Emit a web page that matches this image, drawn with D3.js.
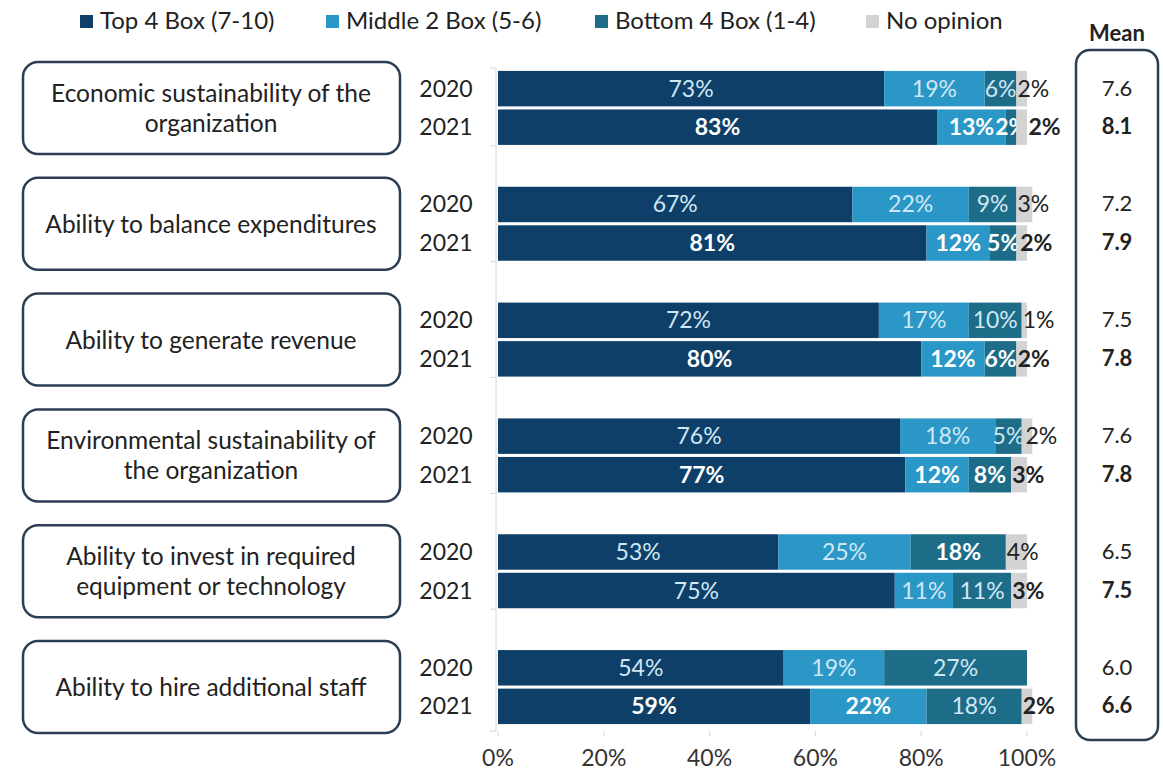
<!DOCTYPE html>
<html lang="en">
<head>
    <meta charset="UTF-8">
    <title>Sustainability ratings 2020 vs 2021</title>
    <script src="https://d3js.org/d3.v7.min.js"></script>
    <style>
        body { margin: 0; background: #fff; font-family: Lato, "Open Sans", sans-serif; }
        .cat-box { fill: #fff; stroke: #2b3e52; stroke-width: 2.5px; }
        .cat-label { font-size: 24.5px; fill: #222; }
        .year-label { font-size: 23px; fill: #222; }
        .bar-label { font-size: 23px; }
        .mean-label { font-size: 22px; fill: #222; }
        .axis-label { font-size: 23px; fill: #333; }
        .legend-label { font-size: 24px; fill: #222; }
    </style>
</head>
<body>
<div id="chart"></div>
<script>
    // 数据
    const categories = [
        ["Economic sustainability of the", "organization"],
        ["Ability to balance expenditures"],
        ["Ability to generate revenue"],
        ["Environmental sustainability of", "the organization"],
        ["Ability to invest in required", "equipment or technology"],
        ["Ability to hire additional staff"]
    ];
    const years = ["2020", "2021"];
    const seriesNames = ["Top 4 Box (7-10)", "Middle 2 Box (5-6)", "Bottom 4 Box (1-4)", "No opinion"];
    const seriesColors = ["#0e3f68", "#2a97c6", "#1e6d88", "#d3d3d3"];

    // values per category: [2020, 2021]
    const top4 = [[73, 83], [67, 81], [72, 80], [76, 77], [53, 75], [54, 59]];
    const middle2 = [[19, 13], [22, 12], [17, 12], [18, 12], [25, 11], [19, 22]];
    const bottom4 = [[6, 2], [9, 5], [10, 6], [5, 8], [18, 11], [27, 18]];
    const noOpinion = [[2, 2], [3, 2], [1, 2], [2, 3], [4, 3], [0, 2]];
    // bold labels (significant change)
    const boldTop = [[0, 1], [0, 1], [0, 1], [0, 1], [0, 0], [0, 1]];
    const boldMid = [[0, 1], [0, 1], [0, 1], [0, 1], [0, 0], [0, 1]];
    const boldBot = [[0, 1], [0, 1], [0, 1], [0, 1], [1, 0], [0, 0]];
    const boldNo = [[0, 1], [0, 1], [0, 1], [0, 1], [0, 1], [0, 1]];
    const means = [[7.6, 8.1], [7.2, 7.9], [7.5, 7.8], [7.6, 7.8], [6.5, 7.5], [6.0, 6.6]];
    const xTicks = [0, 20, 40, 60, 80, 100];

    const width = 1163, height = 772;
    const svg = d3.select("#chart").append("svg")
        .attr("width", width).attr("height", height);

    const x = d3.scaleLinear().domain([0, 100]).range([498, 1027]);
    const yGroup = d3.scaleBand().domain(d3.range(categories.length)).range([50, 745]);
    const yYear = d3.scaleBand().domain(years).range([-37, 37]).paddingInner(0.08);

    // 图例
    const legendX = [80, 326, 595, 866];
    const legend = svg.append("g");
    seriesNames.forEach((name, i) => {
        legend.append("rect")
            .attr("x", legendX[i]).attr("y", 15).attr("width", 13).attr("height", 13)
            .attr("fill", seriesColors[i]);
        legend.append("text").attr("class", "legend-label")
            .attr("x", legendX[i] + 20).attr("y", 29).text(name);
    });

    // Mean box
    svg.append("text").attr("x", 1117).attr("y", 41).attr("text-anchor", "middle")
        .attr("font-size", 22).attr("font-weight", "bold").attr("fill", "#222").text("Mean");
    svg.append("rect").attr("class", "cat-box")
        .attr("x", 1076).attr("y", 50).attr("width", 82).attr("height", 690)
        .attr("rx", 14).attr("ry", 14);

    // y axis line and ticks
    const axisG = svg.append("g").attr("stroke", "#d6d6d6").attr("stroke-width", 1);
    const axisTop = yGroup(0) + 18;
    const axisBottom = yGroup(5) + yGroup.bandwidth() - 14;
    axisG.append("line").attr("x1", x(0) - 2).attr("x2", x(0) - 2)
        .attr("y1", axisTop).attr("y2", axisBottom);
    [axisTop, axisBottom].concat(d3.range(1, categories.length).map(i => yGroup(i) - 20))
        .forEach(yy => {
            axisG.append("line").attr("x1", x(0) - 8).attr("x2", x(0) - 2)
                .attr("y1", yy).attr("y2", yy);
        });

    // x axis
    xTicks.forEach(t => {
        axisG.append("line").attr("x1", x(t)).attr("x2", x(t))
            .attr("y1", axisBottom).attr("y2", axisBottom + 5);
        svg.append("text").attr("class", "axis-label")
            .attr("x", x(t)).attr("y", 766).attr("text-anchor", "middle").text(t + "%");
    });

    // 分组
    categories.forEach((lines, ci) => {
        const cy = yGroup(ci) + yGroup.bandwidth() / 2;
        const g = svg.append("g").attr("transform", `translate(0,${cy})`);

        g.append("rect").attr("class", "cat-box")
            .attr("x", 23).attr("y", -46).attr("width", 377).attr("height", 92)
            .attr("rx", 15).attr("ry", 15);
        const lh = 30;
        lines.forEach((ln, li) => {
            g.append("text").attr("class", "cat-label")
                .attr("x", 211).attr("y", (li - (lines.length - 1) / 2) * lh + 9)
                .attr("text-anchor", "middle").text(ln);
        });

        years.forEach((yr, yi) => {
            const by = yYear(yr);
            const bh = yYear.bandwidth();
            const vals = [top4[ci][yi], middle2[ci][yi], bottom4[ci][yi], noOpinion[ci][yi]];
            const bolds = [boldTop[ci][yi], boldMid[ci][yi], boldBot[ci][yi], boldNo[ci][yi]];

            g.append("text").attr("class", "year-label")
                .attr("x", 446).attr("y", by + bh / 2 + 8).attr("text-anchor", "middle").text(yr);

            let cum = 0;
            let prevRight = 0;
            vals.forEach((v, si) => {
                const x0 = x(cum), x1 = x(cum + v);
                cum += v;
                if (v === 0) return;
                g.append("rect")
                    .attr("x", x0).attr("y", by).attr("width", x1 - x0).attr("height", bh)
                    .attr("fill", seriesColors[si]);
                const isNo = si === 3;
                const t = g.append("text").attr("class", "bar-label")
                    .attr("y", by + bh / 2 + 8)
                    .attr("text-anchor", "start")
                    .attr("font-weight", bolds[si] ? "bold" : "normal")
                    .attr("fill", isNo ? "#222" : (bolds[si] ? "#ffffff" : "#cfe7f5"))
                    .text(v + "%");
                const w = t.node().getComputedTextLength();
                let lx = isNo ? x0 + 1 : (x0 + x1) / 2 - w / 2;
                if (lx < prevRight + 1) lx = prevRight + 1;
                t.attr("x", lx);
                prevRight = lx + w;
            });

            g.append("text").attr("class", "mean-label")
                .attr("x", 1117).attr("y", by + bh / 2 + 7).attr("text-anchor", "middle")
                .attr("font-weight", yi === 1 ? "bold" : "normal")
                .text(means[ci][yi].toFixed(1));
        });
    });
</script>
</body>
</html>
